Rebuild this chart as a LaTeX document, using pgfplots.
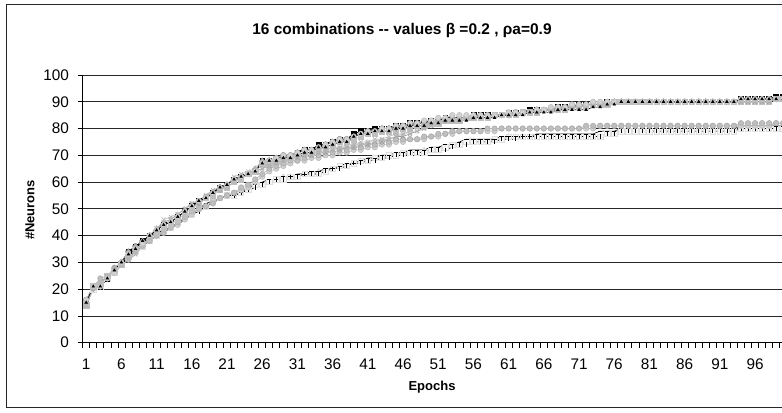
\documentclass[border=0pt]{standalone}
\usepackage{fontspec}
\setmainfont{Liberation Sans}
\usepackage{pgfplots}
\usepackage{pgfplotstable}
\pgfplotsset{compat=1.18}
\pgfplotstableread{
e c1 c2 c3 c4 c5 c6 c7 c8 c9 c10 c11 c12 c13 c14 c15 c16
1 15 16 14 14 15 16 14 15 16 14 15 14 14 15 14 15
2 21 21 20 21 21 20 21 21 21 20 21 21 20 21 21 20
3 21 21 21 22 21 21 22 21 21 21 24 22 21 21 22 21
4 24 24 24 25 24 24 25 24 24 24 25 24 24 24 25 24
5 27 27 26 26 27 28 27 27 26 26 28 27 26 27 26 27
6 30 30 29 29 30 30 29 30 30 29 30 29 29 30 29 30
7 34 34 31 32 33 34 32 34 33 31 32 31 32 33 32 32
8 36 36 33 34 35 36 35 36 35 33 35 34 34 35 34 34
9 38 38 36 37 38 38 37 38 37 36 37 36 36 37 36 36
10 40 40 39 40 40 40 39 40 40 39 38 38 38 39 38 38
11 42 42 42 43 42 42 41 42 42 42 40 40 40 41 40 40
12 44 44 46 45 44 44 43 44 44 45 41 42 42 42 41 42
13 45 45 47 46 45 45 44 45 45 46 43 43 43 43 43 43
14 47 47 48 48 47 47 46 47 47 48 45 44 45 45 44 45
15 49 49 50 50 49 49 48 49 49 50 47 46 47 46 46 47
16 51 51 52 52 51 51 50 51 51 52 49 48 48 48 48 49
17 53 52 53 53 53 52 52 53 53 53 50 50 50 50 49 50
18 54 54 55 55 54 54 54 54 54 55 51 51 51 52 51 51
19 56 56 57 56 56 56 55 56 56 57 52 53 53 53 52 53
20 58 58 58 57 58 57 57 58 58 58 54 54 54 54 54 54
21 59 59 59 58 59 59 58 59 59 59 55 55 55 55 55 55
22 61 61 62 60 61 61 60 61 61 61 56 56 55 55 55 56
23 62 62 63 62 62 62 61 62 62 62 58 57 56 56 56 56
24 63 63 64 63 63 63 63 63 63 63 59 58 57 58 57 57
25 64 64 65 64 64 65 64 64 64 64 61 60 59 59 58 59
26 68 67 66 65 67 68 67 68 67 65 63 62 59 60 59 59
27 68 68 67 66 68 68 67 68 68 66 65 64 60 61 60 60
28 69 69 68 67 68 69 68 69 69 67 66 65 61 61 61 61
29 69 70 69 68 69 69 68 69 70 68 67 66 61 62 61 62
30 70 70 70 69 69 70 69 70 70 69 68 67 62 62 62 62
31 71 71 70 70 70 71 70 71 71 69 68 68 62 63 62 62
32 72 72 71 70 71 72 71 72 72 70 69 68 63 63 63 63
33 72 72 71 71 71 72 71 72 72 70 70 69 63 64 63 63
34 74 73 72 71 73 73 72 74 73 71 70 69 63 64 63 64
35 74 74 72 72 73 74 73 74 74 71 71 70 64 65 64 64
36 75 75 73 72 74 75 74 75 75 72 71 70 65 65 65 65
37 76 76 73 73 75 75 75 76 76 72 72 71 66 66 65 66
38 76 76 74 73 75 76 75 76 76 73 72 71 66 67 66 66
39 78 77 74 74 77 77 76 78 77 73 73 72 67 67 67 67
40 79 78 75 74 78 78 77 79 78 74 73 72 68 68 67 68
41 79 79 75 75 78 79 78 79 79 74 74 73 68 69 68 68
42 80 79 76 75 79 79 78 80 79 75 74 73 69 69 68 69
43 80 80 76 76 79 80 79 80 80 75 75 74 69 70 69 69
44 80 80 77 76 79 80 79 80 80 76 75 74 70 70 69 70
45 81 80 78 77 80 80 79 81 81 77 76 75 70 71 70 70
46 81 81 78 78 80 81 80 81 81 77 76 75 71 71 70 71
47 82 81 79 78 81 81 80 82 82 78 76 76 71 72 71 71
48 82 82 79 79 81 82 81 82 82 79 76 76 71 72 71 71
49 82 82 80 80 81 82 81 82 83 80 77 76 71 72 71 72
50 83 82 81 81 82 82 82 83 83 81 77 77 72 73 72 72
51 83 83 82 82 82 83 82 83 84 82 78 77 72 73 72 72
52 84 83 83 83 83 83 83 84 84 83 78 78 73 74 72 73
53 84 84 84 83 83 84 83 84 85 83 79 78 74 74 73 74
54 84 84 84 84 83 84 83 84 85 84 79 79 74 75 74 74
55 84 84 84 84 83 84 84 84 85 84 79 79 75 76 74 75
56 85 84 85 84 84 85 84 85 85 84 79 79 75 76 75 75
57 85 85 85 85 84 85 84 85 85 85 79 79 75 76 75 75
58 85 85 85 85 84 85 84 85 85 85 80 79 75 76 75 75
59 85 85 85 85 84 85 85 85 85 85 80 79 76 76 75 76
60 85 85 85 85 85 85 85 85 85 85 80 80 76 77 76 76
61 86 85 86 85 85 86 85 86 86 85 80 80 77 77 76 77
62 86 86 86 86 85 86 85 86 86 86 80 80 77 77 76 77
63 86 86 86 86 85 86 86 86 86 86 80 80 77 77 77 77
64 87 86 86 86 86 86 86 87 86 86 80 80 77 77 77 77
65 87 87 87 86 86 87 86 87 87 86 80 80 77 78 77 77
66 87 87 87 87 86 87 87 87 87 87 80 80 77 78 77 77
67 87 87 88 87 86 87 87 87 88 87 80 80 77 78 77 77
68 88 87 88 87 87 88 87 88 88 87 80 80 77 78 77 77
69 88 88 88 88 87 88 87 88 88 88 80 80 77 78 77 77
70 88 88 89 88 87 88 88 88 89 88 80 80 77 78 77 77
71 89 88 89 88 87 89 88 89 89 88 80 80 77 78 77 77
72 89 89 89 89 87 89 88 89 89 89 81 80 77 78 77 77
73 89 89 89 89 88 89 89 89 90 89 81 80 77 78 77 77
74 89 89 90 89 88 89 89 89 90 89 81 81 77 79 77 77
75 90 89 90 89 89 90 89 90 90 89 81 81 78 79 78 78
76 90 90 90 90 89 90 90 90 90 90 81 81 78 79 78 78
77 90 90 90 90 90 90 90 90 90 90 81 81 79 80 79 79
78 90 90 90 90 90 90 90 90 90 90 81 81 79 80 79 79
79 90 90 90 90 90 90 90 90 90 90 81 81 79 80 79 79
80 90 90 90 90 90 90 90 90 90 90 81 81 79 80 79 79
81 90 90 90 90 90 90 90 90 90 90 81 81 79 80 79 79
82 90 90 90 90 90 90 90 90 90 90 81 81 79 80 79 79
83 90 90 90 90 90 90 90 90 90 90 81 81 79 80 79 79
84 90 90 90 90 90 90 90 90 90 90 81 81 79 80 79 79
85 90 90 90 90 90 90 90 90 90 90 81 81 79 80 79 79
86 90 90 90 90 90 90 90 90 90 90 81 81 79 80 79 79
87 90 90 90 90 90 90 90 90 90 90 81 81 79 80 79 79
88 90 90 90 90 90 90 90 90 90 90 81 81 79 80 79 79
89 90 90 90 90 90 90 90 90 90 90 81 81 79 80 79 79
90 90 90 90 90 90 90 90 90 90 90 81 81 79 80 79 79
91 90 90 90 90 90 90 90 90 90 90 81 81 79 80 79 79
92 90 90 90 90 90 90 90 90 90 90 81 81 79 80 79 79
93 90 90 90 90 90 90 90 90 90 90 81 81 79 80 79 79
94 91 90 91 90 91 91 90 91 91 90 82 81 80 81 80 80
95 91 90 91 90 91 91 90 91 91 90 82 81 80 81 80 80
96 91 90 91 90 91 91 90 91 91 90 82 81 80 81 80 80
97 91 90 91 90 91 91 90 91 91 90 82 81 80 81 80 80
98 91 90 91 90 91 91 90 91 91 90 82 81 80 81 80 80
99 92 91 91 91 91 91 91 92 91 91 82 82 80 81 80 80
100 92 91 91 91 91 91 91 92 91 91 82 82 80 81 80 80
}\data

\begin{document}
\begin{tikzpicture}[x=0.75pt,y=0.75pt]
\useasboundingbox (0,0) rectangle (782,413);
\clip (0,0) rectangle (782,413);
\fill[white] (0,0) rectangle (782,413);
\draw[line width=0.75pt, black!85] (6.5,5) rectangle (820,408);
\begin{axis}[
  at={(62.03pt,52.73pt)}, anchor=south west,
  scale only axis, width=528pt, height=200.8pt,
  xmin=0.5, xmax=100.5, ymin=0, ymax=100,
  axis x line*=bottom, axis y line*=left,
  axis line style={black, line width=0.6pt},
  ytick={0,10,...,100},
  ymajorgrids, major grid style={black!85, line width=0.6pt},
  tick align=outside,
  major tick length=3.75pt,
  tick style={black, line width=0.5pt},
  xtick={0.5,1.5,...,100.5},
  xticklabels={},
  extra x ticks={1,6,...,96},
  extra x tick labels={1,6,11,16,21,26,31,36,41,46,51,56,61,66,71,76,81,86,91,96},
  extra x tick style={major tick length=0pt, xticklabel style={yshift=-8.5pt}},
  yticklabel style={xshift=-3pt},
  tick label style={font=\fontsize{11.5}{13}\selectfont},
  /pgf/number format/assume math mode=true,
  every axis plot/.append style={line width=0.45pt, mark size=2pt},
]
\addplot[gray!25, mark=triangle*, mark options={fill=gray!20, draw=gray!35}] table[x=e,y=c16]{\data};
\addplot[gray!40, mark=square*, mark options={fill=gray!8, draw=gray!25}] table[x=e,y=c13]{\data};
\addplot[black, mark=|, mark size=1.6pt] table[x=e,y=c15]{\data};
\addplot[black, mark=-, mark size=1.6pt] table[x=e,y=c14]{\data};
\addplot[gray!60, mark=*, mark options={fill=gray!35, draw=gray!55}] table[x=e,y=c12]{\data};
\addplot[gray!60, mark=*, mark options={fill=gray!50, draw=gray!65}] table[x=e,y=c11]{\data};
\addplot[black, mark=square*, mark size=1.8pt, mark options={fill=black}] table[x=e,y=c1]{\data};
\addplot[black, mark=+, mark size=1.6pt] table[x=e,y=c8]{\data};
\addplot[black, mark=*, mark options={fill=white, draw=black}] table[x=e,y=c2]{\data};
\addplot[gray!50, mark=square*, mark options={fill=gray!50}] table[x=e,y=c7]{\data};
\addplot[gray!70, mark=diamond*, mark options={fill=gray!60}] table[x=e,y=c6]{\data};
\addplot[gray!80, mark=x] table[x=e,y=c10]{\data};
\addplot[gray!60, mark=asterisk] table[x=e,y=c4]{\data};
\addplot[gray!55, mark=x] table[x=e,y=c3]{\data};
\addplot[gray!40, mark=*, mark options={fill=gray!35, draw=gray!50}] table[x=e,y=c9]{\data};
\addplot[black, mark=triangle*, mark size=1.1pt] table[x=e,y=c5]{\data};
\end{axis}
\node[font=\bfseries\fontsize{11.6}{14}\selectfont, anchor=base] at (402,378.3) {16 combinations -{}- values β =0.2 , ρa=0.9};
\node[font=\bfseries\fontsize{9.75}{12}\selectfont, rotate=90] at (30,203) {\#Neurons};
\node[font=\bfseries\fontsize{9.75}{12}\selectfont] at (432,26) {Epochs};
\end{tikzpicture}
\end{document}
